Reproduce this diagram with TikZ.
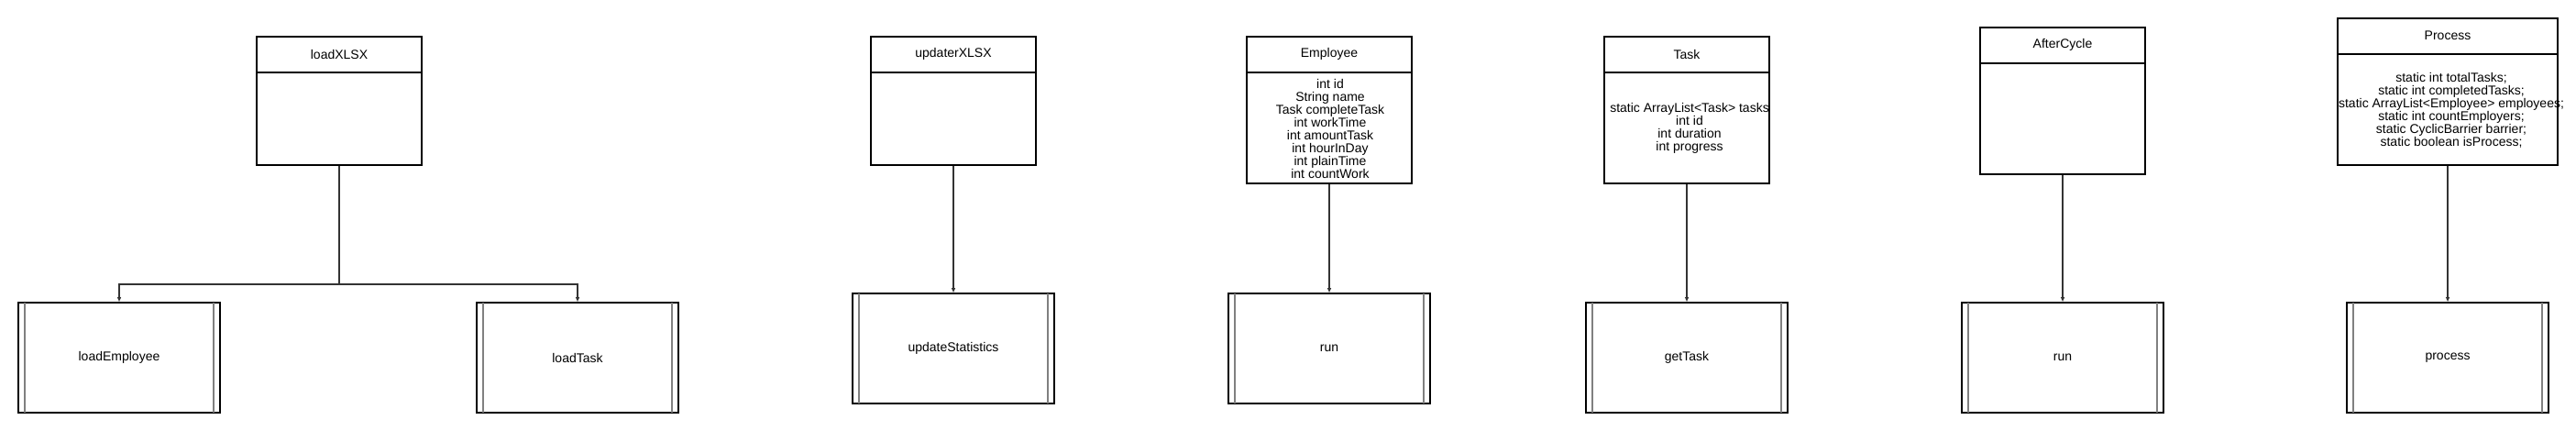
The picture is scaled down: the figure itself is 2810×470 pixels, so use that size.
\documentclass[tikz,border=0pt]{standalone}
\usepackage{fontspec}
\setmainfont{Liberation Sans}
\usetikzlibrary{arrows.meta}
\definecolor{connc}{HTML}{333333}
\definecolor{innerc}{HTML}{808080}
\tikzset{
  every node/.style={font=\fontsize{14}{14}\selectfont, inner sep=0pt},
  classbox/.style={draw=black, line width=2pt, rectangle, minimum width=180pt, minimum height=160pt},
  methodbox/.style={draw=black, line width=2pt, rectangle, minimum width=220pt, minimum height=120pt},
  divider/.style={draw=black, line width=2pt},
  innerline/.style={draw=innerc, line width=2pt},
  conn/.style={draw=connc, line width=2pt, -{Triangle[length=5pt,width=4pt]}},
  plainconn/.style={draw=connc, line width=2pt},
}
\begin{document}
\begin{tikzpicture}[x=1pt,y=-1pt]
\useasboundingbox (0,0) rectangle (2810,470);

% class boxes
\node[classbox, minimum height=140pt] (loadXLSX) at (370,110) {};
\node[classbox, minimum height=140pt] (updaterXLSX) at (1040,110) {};
\node[classbox] (Employee) at (1450,120) {};
\node[classbox] (Task) at (1840,120) {};
\node[classbox] (AfterCycle) at (2250,110) {};
\node[classbox, minimum width=240pt] (Process) at (2670,100) {};

% dividers
\foreach \n in {loadXLSX,updaterXLSX,Employee,Task,AfterCycle,Process}{
  \draw[divider] ([yshift=-40pt]\n.north west) -- ([yshift=-40pt]\n.north east);
  \node (\n-title) at ([yshift=-20pt]\n.north) {\n};
}

% bodies
\node[align=center] (Employee-body) at (1451,140) {int id\\String name\\Task completeTask\\int workTime\\int amountTask\\int hourInDay\\int plainTime\\int countWork};
\node[align=center] (Task-body) at (1843,140) {static ArrayList<Task> tasks\\int id\\int duration\\int progress};
\node[align=center] (Process-body) at (2674,120) {static int totalTasks;\\static int completedTasks;\\static ArrayList<Employee> employees;\\static int countEmployers;\\static CyclicBarrier barrier;\\static boolean isProcess;};

% method boxes
\node[methodbox] (loadEmployee) at (130,390) {loadEmployee};
\node[methodbox] (loadTask) at (630,390) {loadTask};
\node[methodbox] (updateStatistics) at (1040,380) {updateStatistics};
\node[methodbox] (run1) at (1450,380) {run};
\node[methodbox] (getTask) at (1840,390) {getTask};
\node[methodbox] (run2) at (2250,390) {run};
\node[methodbox] (process) at (2670,390) {process};

\foreach \n in {loadEmployee,loadTask,updateStatistics,run1,getTask,run2,process}{
  \draw[innerline] ([xshift=8pt,yshift=-1pt]\n.north west) -- ([xshift=8pt,yshift=1pt]\n.south west);
  \draw[innerline] ([xshift=-8pt,yshift=-1pt]\n.north east) -- ([xshift=-8pt,yshift=1pt]\n.south east);
}

% connectors
\coordinate (split) at (370,310);
\draw[plainconn] (loadXLSX.south) -- (split);
\draw[conn] (split) -| (loadEmployee.north);
\draw[conn] (split) -| (loadTask.north);
\draw[conn] (updaterXLSX.south) -- (updateStatistics.north);
\draw[conn] (Employee.south) -- (run1.north);
\draw[conn] (Task.south) -- (getTask.north);
\draw[conn] (AfterCycle.south) -- (run2.north);
\draw[conn] (Process.south) -- (process.north);
\end{tikzpicture}
\end{document}
